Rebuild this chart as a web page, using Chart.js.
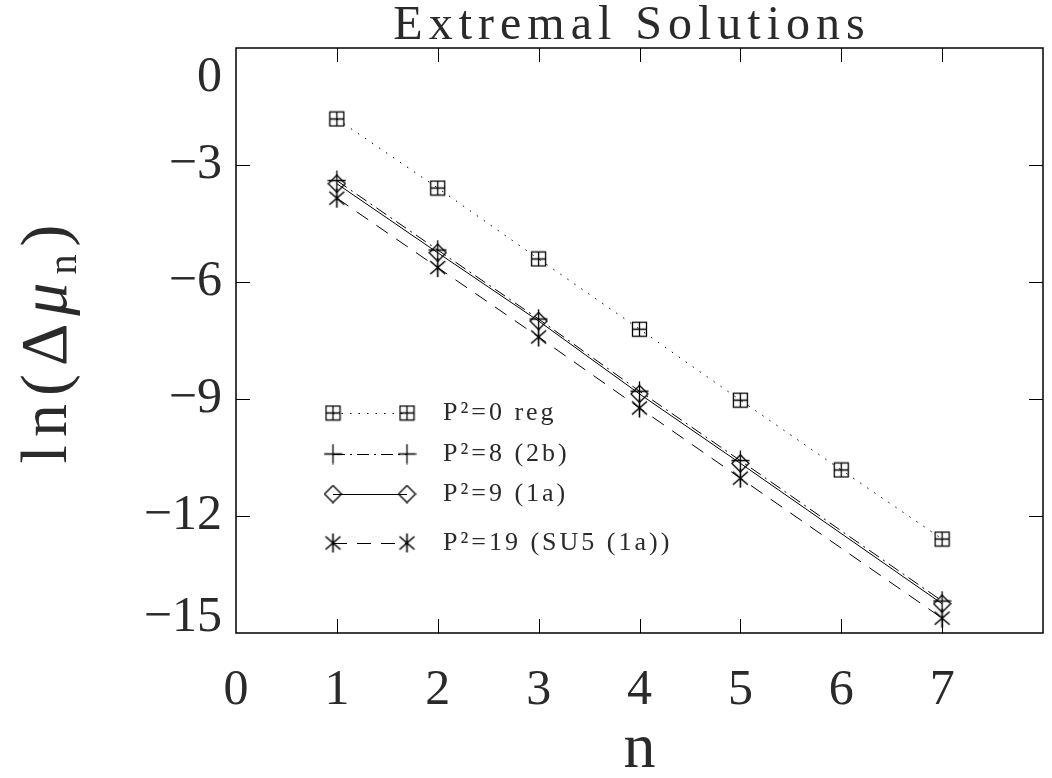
<!DOCTYPE html>
<html><head><meta charset="utf-8">
<script src="https://cdn.jsdelivr.net/npm/chart.js@4.4.0/dist/chart.umd.min.js"></script>
<style>html,body{margin:0;padding:0;background:#fff}#wrap{width:1052px;height:778px}</style>
</head><body><div id="wrap"><canvas id="c" width="1052" height="778"></canvas></div>
<script>
// ---- data ----
const nValues = [1, 2, 3, 4, 5, 6, 7];
const seriesNames = ['P²=0 reg', 'P²=8 (2b)', 'P²=9 (1a)', 'P²=19 (SU5 (1a))'];
const p0reg = [-1.82, -3.59, -5.41, -7.21, -9.03, -10.82, -12.59];
const p8    = [-3.40, -5.18, -6.95, -8.80, -10.58, null, -14.18];
const p9    = [-3.48, -5.25, -7.00, -8.87, -10.65, null, -14.25];
const p19   = [-3.85, -5.63, -7.41, -9.23, -11.03, null, -14.62];
const xTickValues = [0, 1, 2, 3, 4, 5, 6, 7];
const xTickLabels = ['0', '1', '2', '3', '4', '5', '6', '7'];
const yTickValues = [0, -3, -6, -9, -12, -15];
const yTickLabels = ['0', '−3', '−6', '−9', '−12', '−15'];
const titleText = 'Extremal Solutions';
const xTitle = 'n';

// ---- marker images ----
function mk(w, h, draw) {
  const c = document.createElement('canvas'); c.width = w; c.height = h;
  const g = c.getContext('2d'); g.strokeStyle = '#000'; g.lineWidth = 1.3;
  draw(g, w, h); return c;
}
const boxPlus = mk(17, 17, (g, w, h) => {
  g.strokeRect(1.5, 1.5, w - 3, h - 3);
  g.beginPath(); g.moveTo(w / 2, 1.5); g.lineTo(w / 2, h - 1.5);
  g.moveTo(1.5, h / 2); g.lineTo(w - 1.5, h / 2); g.stroke();
});
const plusM = mk(19, 21, (g, w, h) => {
  g.beginPath(); g.moveTo(w / 2, 0.5); g.lineTo(w / 2, h - 0.5);
  g.moveTo(0.5, h / 2); g.lineTo(w - 0.5, h / 2); g.stroke();
});
const diamondM = mk(19, 19, (g, w, h) => {
  g.beginPath(); g.moveTo(w / 2, 1); g.lineTo(w - 1, h / 2); g.lineTo(w / 2, h - 1); g.lineTo(1, h / 2); g.closePath(); g.stroke();
});
const starM = mk(19, 21, (g, w, h) => {
  g.lineWidth = 1.6;
  g.beginPath(); g.moveTo(w / 2, 1); g.lineTo(w / 2, h - 1);
  g.moveTo(2, 4); g.lineTo(w - 2, h - 4); g.moveTo(w - 2, 4); g.lineTo(2, h - 4); g.stroke();
});

function pts(vals) { return nValues.map((n, i) => ({ x: n, y: vals[i] })).filter(p => p.y !== null); }

const datasets = [
  { label: seriesNames[0], data: pts(p0reg), borderDash: [1.5, 7], pointStyle: boxPlus },
  { label: seriesNames[1], data: pts(p8), borderDash: [12, 5, 2, 5], pointStyle: plusM },
  { label: seriesNames[2], data: pts(p9), borderDash: [], pointStyle: diamondM },
  { label: seriesNames[3], data: pts(p19), borderDash: [14, 10], pointStyle: starM }
].map(d => Object.assign(d, { borderColor: '#000', backgroundColor: '#000', borderWidth: 1, pointRadius: 8, tension: 0, fill: false }));

const SERIF = '"Liberation Serif", "DejaVu Serif", serif';
const TL = 14;
const TXT = '#2a2a2a';

const decor = {
  id: 'decor',
  afterDraw(chart) {
    const { ctx, chartArea: a, scales: { x, y } } = chart;
    ctx.save();
    // frame
    ctx.strokeStyle = '#000'; ctx.lineWidth = 1.5; ctx.setLineDash([]);
    ctx.strokeRect(a.left, a.top, a.right - a.left, a.bottom - a.top);
    // ticks
    ctx.lineWidth = 1; ctx.beginPath();
    xTickValues.forEach(v => {
      if (v <= x.min || v >= x.max) return;
      const px = Math.round(x.getPixelForValue(v)) + 0.5;
      ctx.moveTo(px, a.bottom); ctx.lineTo(px, a.bottom - TL);
      ctx.moveTo(px, a.top); ctx.lineTo(px, a.top + TL);
    });
    yTickValues.forEach(v => {
      if (v >= y.max || v <= y.min) return;
      const py = Math.round(y.getPixelForValue(v)) + 0.5;
      ctx.moveTo(a.left, py); ctx.lineTo(a.left + TL, py);
      ctx.moveTo(a.right, py); ctx.lineTo(a.right - TL, py);
    });
    ctx.stroke();
    // tick labels
    ctx.fillStyle = TXT;
    ctx.font = '50px ' + SERIF;
    ctx.textAlign = 'center'; ctx.textBaseline = 'middle';
    xTickValues.forEach((v, i) => ctx.fillText(xTickLabels[i], x.getPixelForValue(v), 691));
    ctx.textAlign = 'right';
    yTickValues.forEach((v, i) => {
      let py = y.getPixelForValue(v);
      if (v === y.max) py += 30;
      if (v === y.min) py -= 15;
      ctx.fillText(yTickLabels[i], a.left - 14, py);
    });
    // title
    ctx.font = '48px ' + SERIF; ctx.textAlign = 'center';
    ctx.letterSpacing = '6px';
    ctx.fillText(titleText, 632, 26);
    // x title
    ctx.font = '64px ' + SERIF; ctx.letterSpacing = '0px';
    ctx.fillText(xTitle, (a.left + a.right) / 2, 750);
    // y title (rotated)
    ctx.save();
    ctx.translate(66, 340); ctx.rotate(-Math.PI / 2);
    ctx.textBaseline = 'alphabetic'; ctx.textAlign = 'left';
    ctx.letterSpacing = '8px';
    const big = '66px ' + SERIF, bigI = 'italic 66px ' + SERIF, small = '40px ' + SERIF;
    const parts = [['ln(Δ', big, 0], ['μ', bigI, 0], ['n', small, 10], [')', big, 0]];
    let total = 0;
    parts.forEach(p => { ctx.font = p[1]; p.push(ctx.measureText(p[0]).width); total += p[3]; });
    let sx = -total / 2;
    parts.forEach(p => { ctx.font = p[1]; ctx.fillText(p[0], sx, p[2]); sx += p[3]; });
    ctx.restore();
    // legend
    const rows = [413, 454, 494, 543];
    ctx.font = '26px ' + SERIF; ctx.letterSpacing = '3px';
    ctx.textAlign = 'left'; ctx.textBaseline = 'middle';
    chart.data.datasets.forEach((d, i) => {
      const ry = rows[i], x1 = 333, x2 = 407;
      ctx.strokeStyle = '#000'; ctx.lineWidth = 1; ctx.setLineDash(d.borderDash);
      ctx.beginPath(); ctx.moveTo(x1, ry + 0.5); ctx.lineTo(x2, ry + 0.5); ctx.stroke();
      ctx.setLineDash([]);
      const im = d.pointStyle;
      ctx.drawImage(im, x1 - im.width / 2, ry - im.height / 2);
      ctx.drawImage(im, x2 - im.width / 2, ry - im.height / 2);
      ctx.fillText(d.label, 443, ry);
    });
    ctx.restore();
  }
};

new Chart(document.getElementById('c'), {
  type: 'line',
  data: { datasets },
  options: {
    responsive: false, animation: false, devicePixelRatio: 1,
    layout: { padding: { left: 236, top: 48, right: 3, bottom: 145 } },
    plugins: { legend: { display: false }, tooltip: { enabled: false }, title: { display: false } },
    scales: {
      x: { type: 'linear', min: 0, max: 8, display: false },
      y: { type: 'linear', min: -15, max: 0, display: false }
    }
  },
  plugins: [decor]
});
</script></body></html>
